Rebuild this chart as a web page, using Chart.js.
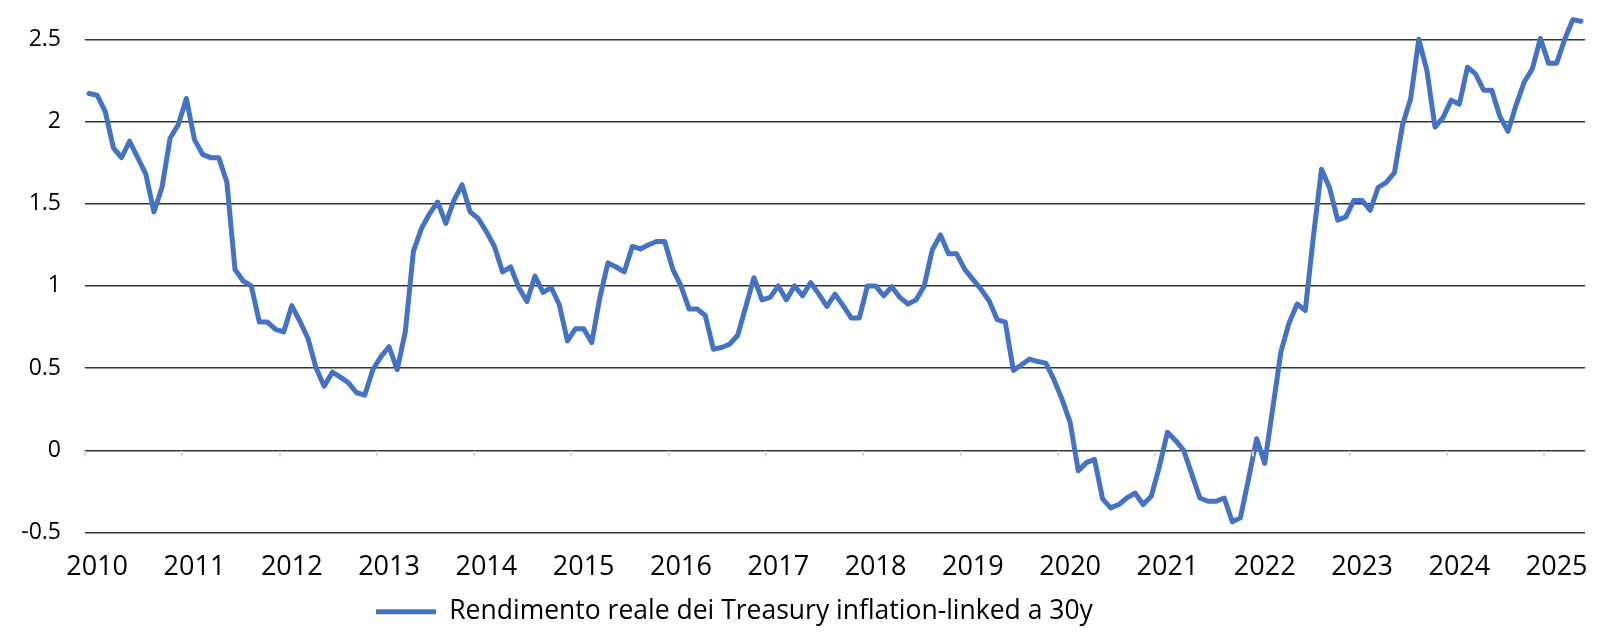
<!DOCTYPE html>
<html>
<head>
<meta charset="utf-8">
<script src="https://cdn.jsdelivr.net/npm/chart.js@4"></script>
<style>
  html, body { margin: 0; padding: 0; background: #fff; }
  #wrap { width: 1600px; height: 640px; }
</style>
</head>
<body>
<div id="wrap"><canvas id="realYieldChart"></canvas></div>
<script>
// monthly observations, Dec 2009 -> Apr 2025
const startYear = 2009;
const startMonth = 11;
const yearLabels = ["2010", "2011", "2012", "2013", "2014", "2015", "2016", "2017",
  "2018", "2019", "2020", "2021", "2022", "2023", "2024", "2025"];
const yTicks = [-0.5, 0, 0.5, 1, 1.5, 2, 2.5];
const seriesName = "Rendimento reale dei Treasury inflation-linked a 30y";
const realYield30y = [
  2.17, 2.16, 2.06, 1.84, 1.78, 1.88, 1.78, 1.68, 1.45, 1.60, 1.90, 1.98,
  2.14, 1.89, 1.80, 1.78, 1.78, 1.63, 1.10, 1.03, 1.00, 0.78, 0.78, 0.735,
  0.72, 0.88, 0.785, 0.68, 0.50, 0.39, 0.475, 0.445, 0.41, 0.35, 0.335, 0.49,
  0.57, 0.63, 0.49, 0.72, 1.21, 1.35, 1.44, 1.51, 1.38, 1.52, 1.615, 1.45,
  1.41, 1.33, 1.24, 1.085, 1.115, 0.99, 0.905, 1.06, 0.96, 0.99, 0.885, 0.665,
  0.74, 0.74, 0.655, 0.93, 1.14, 1.115, 1.085, 1.24, 1.225, 1.25, 1.27, 1.27,
  1.10, 1.00, 0.86, 0.86, 0.82, 0.615, 0.625, 0.645, 0.70, 0.875, 1.05, 0.915,
  0.93, 1.00, 0.915, 1.00, 0.94, 1.02, 0.95, 0.875, 0.95, 0.88, 0.805, 0.805,
  1.00, 1.00, 0.94, 0.995, 0.93, 0.89, 0.915, 1.00, 1.22, 1.31, 1.195, 1.195,
  1.10, 1.04, 0.98, 0.91, 0.795, 0.78, 0.485, 0.52, 0.555, 0.54, 0.53, 0.43,
  0.31, 0.17, -0.125, -0.075, -0.055, -0.295, -0.35, -0.33, -0.29, -0.26, -0.33, -0.28,
  -0.10, 0.11, 0.06, 0.00, -0.145, -0.29, -0.31, -0.31, -0.29, -0.435, -0.41, -0.175,
  0.07, -0.08, 0.26, 0.60, 0.775, 0.89, 0.85, 1.30, 1.71, 1.595, 1.40, 1.42,
  1.52, 1.52, 1.46, 1.60, 1.63, 1.69, 1.98, 2.14, 2.50, 2.31, 1.965, 2.025,
  2.13, 2.105, 2.33, 2.29, 2.19, 2.19, 2.03, 1.94, 2.10, 2.24, 2.32, 2.505,
  2.355, 2.355, 2.50, 2.62, 2.61
];

const months = realYield30y.map((_, i) => {
  const m = startMonth + i;
  return (startYear + Math.floor(m / 12)) + "-" + String((m % 12) + 1).padStart(2, "0");
});

const FONT = "'Open Sans', 'Noto Sans', sans-serif";
Chart.defaults.font.family = FONT;
Chart.defaults.color = "#000";

// short light tick marks on the zero line, every 12 months
const zeroTicks = {
  id: "zeroTicks",
  afterDatasetsDraw(chart) {
    const { ctx, scales: { x, y } } = chart;
    const y0 = y.getPixelForValue(0);
    const half = (x.getPixelForValue(1) - x.getPixelForValue(0)) / 2;
    ctx.save();
    ctx.strokeStyle = "#d9d9d9";
    ctx.lineWidth = 2;
    for (let i = 0; i < months.length; i += 12) {
      const px = Math.round(x.getPixelForValue(i) - half);
      ctx.beginPath();
      ctx.moveTo(px, y0 + 1);
      ctx.lineTo(px, y0 + 6);
      ctx.stroke();
    }
    ctx.restore();
  },
};

const legendShift = {
  id: "legendShift",
  afterLayout(chart) {
    const lg = chart.legend;
    const w = lg.right - lg.left;
    lg.left = 376 - lg.options.labels.padding;
    lg.right = lg.left + w;
  },
};

new Chart(document.getElementById("realYieldChart"), {
  type: "line",
  plugins: [zeroTicks, legendShift],
  data: {
    labels: months,
    datasets: [
      {
        label: seriesName,
        data: realYield30y,
        borderColor: "#4472c4",
        backgroundColor: "#4472c4",
        borderWidth: 5,
        borderJoinStyle: "round",
        borderCapStyle: "round",
        pointRadius: 0,
        tension: 0,
        clip: false,
      },
    ],
  },
  options: {
    responsive: true,
    maintainAspectRatio: false,
    animation: false,
    layout: { autoPadding: false, padding: { top: 13, right: 13, left: 0, bottom: 5 } },
    plugins: {
      tooltip: { enabled: false },
      legend: {
        position: "bottom",
        align: "start",
        labels: {
          usePointStyle: true,
          pointStyle: "line",
          pointStyleWidth: 60,
          padding: 10,
          font: { size: 26.5 },
          color: "#000",
        },
      },
    },
    scales: {
      x: {
        offset: true,
        grid: { display: false, drawTicks: false },
        border: { display: false },
        afterFit(scale) { scale.height = 56; },
        ticks: {
          autoSkip: false,
          maxRotation: 0,
          padding: 19,
          font: { size: 27 },
          color: "#000",
          callback: (v, i) => (i % 12 === 1 ? yearLabels[(i - 1) / 12] : ""),
        },
      },
      y: {
        min: -0.5,
        max: 2.66,
        afterBuildTicks(scale) { scale.ticks = yTicks.map((v) => ({ value: v })); },
        afterFit(scale) {
          scale.width = 85;
          scale.paddingTop = 0;
          scale.paddingBottom = 0;
        },
        grid: { color: "#333", lineWidth: 1.5, drawTicks: false },
        border: { display: false },
        ticks: {
          padding: 24,
          font: { size: 23 },
          color: "#000",
          callback: (v) => String(v),
        },
      },
    },
  },
});
</script>
</body>
</html>
